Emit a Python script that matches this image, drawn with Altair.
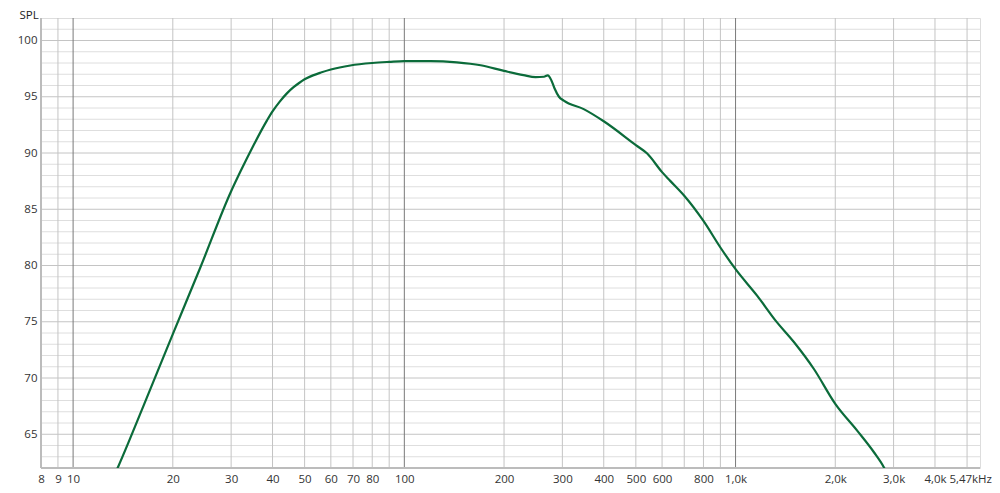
import altair as alt
import pandas as pd

# ---- data ----
freq = [13.2, 13.7, 16.3, 20.0, 24.2, 30.0, 32.0, 35.0, 38.5, 40.0, 42.0, 44.2, 46.3, 48.0,
        50.0, 53.0, 56.0, 60.0, 68.7, 80.0, 90.0, 100.0, 120.0, 144.0, 170.0, 200.0,
        229.0, 249.0, 264.0, 271.0, 278.0, 284.0, 293.0, 303.0, 348.0, 400.0, 500.0,
        541.0, 600.0, 636.0, 700.0, 800.0, 900.0, 1000.0, 1163.0, 1321.0, 1500.0,
        1724.0, 2000.0, 2332.0, 2617.0, 2806.0, 2900.0]
spl = [61.1, 62.16, 67.5, 73.9, 79.8, 86.6, 88.35, 90.65, 92.9, 93.7, 94.55, 95.3, 95.85, 96.2,
       96.55, 96.9, 97.15, 97.42, 97.78, 98.0, 98.1, 98.17, 98.17, 98.06, 97.8, 97.3,
       96.92, 96.74, 96.78, 96.9, 96.45, 95.75, 95.0, 94.65, 93.9, 92.82, 90.7,
       89.95, 88.3, 87.5, 86.2, 83.96, 81.6, 79.67, 77.3, 75.1, 73.2,
       70.8, 67.7, 65.3, 63.4, 62.05, 61.2]

x_tick_values = [8, 9, 10, 20, 30, 40, 50, 60, 70, 80, 100, 200, 300, 400, 500, 600,
                 800, 1000, 2000, 3000, 4000, 5470]
x_tick_labels = ["8", "9", "10", "20", "30", "40", "50", "60", "70", "80", "100", "200",
                 "300", "400", "500", "600", "800", "1,0k", "2,0k", "3,0k", "4,0k", "5,47kHz"]
x_grid_minor = [9, 20, 30, 40, 50, 60, 70, 80, 90, 200, 300, 400, 500, 600, 700, 800,
                900, 2000, 3000, 4000, 5000]
x_grid_decade = [10, 100, 1000]
y_tick_values = [65, 70, 75, 80, 85, 90, 95, 100]
y_grid_minor = [v for v in range(63, 102) if v % 5 != 0]
y_grid_major = [65, 70, 75, 80, 85, 90, 95, 100]

X_DOMAIN = [8, 5470]
Y_DOMAIN = [62, 102]

# ---- label expression ----
expr = "''"
for v, l in zip(reversed(x_tick_values), reversed(x_tick_labels)):
    expr = f"datum.value == {v} ? '{l}' : ({expr})"

FONT = "Open Sans"
xs = alt.Scale(type="log", domain=X_DOMAIN, nice=False)
ys = alt.Scale(domain=Y_DOMAIN, nice=False, zero=False)

curve_df = pd.DataFrame({"f": freq, "spl": spl})

last_test = "datum.value > 5000"
base_axes = alt.Chart(curve_df).mark_line(opacity=0).encode(
    x=alt.X("f:Q", scale=xs,
            axis=alt.Axis(values=x_tick_values, labelExpr=expr, grid=False, ticks=False,
                          domain=False, title=None, labelFont=FONT, labelFontSize=11.5,
                          labelColor="#333333", labelPadding=5, labelFlush=False,
                          labelOverlap=False,
                          labelAlign={"condition": {"test": last_test, "value": "right"},
                                      "value": "center"},
                          labelOffset={"condition": {"test": last_test, "value": 11.5},
                                       "value": 0})),
    y=alt.Y("spl:Q", scale=ys,
            axis=alt.Axis(values=y_tick_values, grid=False, ticks=False, domain=False,
                          title="SPL", titleAngle=0, titleX=-22, titleY=-3,
                          titleAlign="left", titleBaseline="middle", titleFont=FONT,
                          titleFontSize=11.5, titleFontWeight="normal", titleColor="#222222",
                          labelFont=FONT, labelFontSize=11.5, labelColor="#333333",
                          labelPadding=4)),
)

def vrules(vals, color):
    return alt.Chart(pd.DataFrame({"f": vals})).mark_rule(color=color, strokeWidth=1).encode(
        x=alt.X("f:Q", scale=xs))

def hrules(vals, color):
    return alt.Chart(pd.DataFrame({"v": vals})).mark_rule(color=color, strokeWidth=1).encode(
        y=alt.Y("v:Q", scale=ys))

g_ymin = hrules(y_grid_minor, "#dedede")
g_ymaj = hrules(y_grid_major, "#c4c4c4")
g_xmin = vrules(x_grid_minor, "#c4c4c4")
g_xdec = vrules(x_grid_decade, "#7a7a7a")

frame_left = alt.Chart(pd.DataFrame({"f": [X_DOMAIN[0]]})).mark_rule(
    color="#bcbcbc", strokeWidth=2).encode(x=alt.X("f:Q", scale=xs))
frame_bottom = alt.Chart(pd.DataFrame({"v": [Y_DOMAIN[0]]})).mark_rule(
    color="#bcbcbc", strokeWidth=2).encode(y=alt.Y("v:Q", scale=ys))

line = alt.Chart(curve_df).mark_line(color="#0b6b3a", strokeWidth=2.2,
                                     interpolate="monotone", clip=True).encode(
    x=alt.X("f:Q", scale=xs),
    y=alt.Y("spl:Q", scale=ys),
)

chart = alt.layer(base_axes, g_ymin, g_ymaj, g_xmin, g_xdec, frame_left, frame_bottom, line).properties(
    width=939, height=450,
    autosize=alt.AutoSizeParams(type="none"),
    padding={"left": 33, "top": 10, "right": 12, "bottom": 17},
).configure_view(stroke="#bcbcbc", strokeWidth=1).configure(background="white")

chart.save("out.html", embed_options={"renderer": "svg", "actions": False})
